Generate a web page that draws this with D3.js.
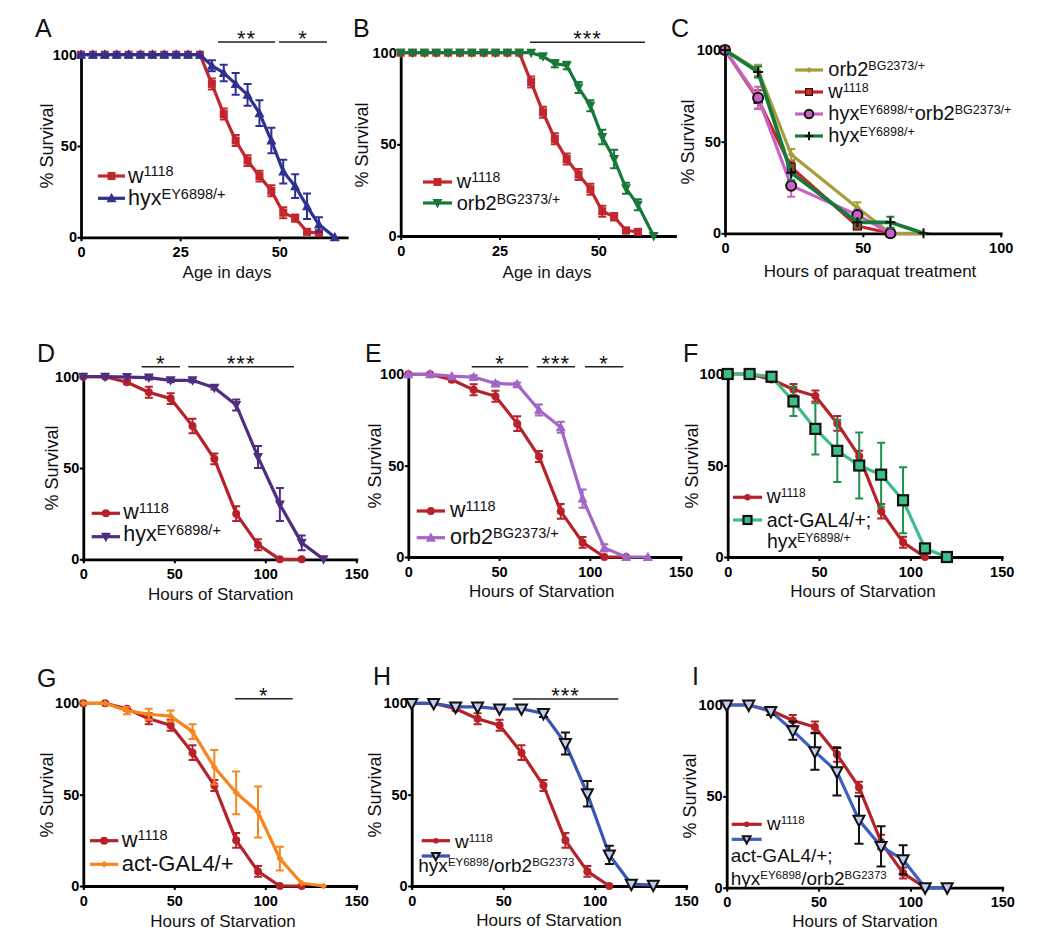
<!DOCTYPE html>
<html><head><meta charset="utf-8">
<script src="https://cdn.jsdelivr.net/npm/d3@7"></script>
<style>body{margin:0;background:#fff} svg{display:block}</style>
</head><body>
<svg id="chart" width="1050" height="949"></svg>
<script>
// ---------------- DATA ----------------
// Lifespan (panels A, B) - age in days
const lifeDays    = [0,3,6,9,12,15,18,21,24,27,30,33,36,39,42,45,48,51,54,57,60];
const lifeMutDays = [0,3,6,9,12,15,18,21,24,27,30,33,36,39,42,45,48,51,54,57,60,64];
const lifeW1118    = [100,100,100,100,100,100,100,100,100,100,100,84,67.5,53,42,33.5,25.5,13.5,10.5,3,2.3];
const lifeW1118Err = [0,0,0,0,0,0,0,0,0,0,0,3,3,3,3,3,3,3,2,1.5,1.5];
const lifeHyx      = [100,100,100,100,100,100,100,100,100,100,100,94,90,84,78,68,53,36,28,17,7,0];
const lifeHyxErr   = [0,0,0,0,0,0,0,0,0,0,0,3,4.5,6,6,7,7,6.5,6.5,7,4,0];
const lifeOrb2     = [100,100,100,100,100,100,100,100,100,100,100,100,98,94,93,81,71,54,42,26,17,0];
const lifeOrb2Err  = [0,0,0,0,0,0,0,0,0,0,0,0,1,2,2,3,3,4,5,3,3,0];

// Paraquat (panel C) - hours
const paraHours      = [0,12,24,48,60,72];
const paraHoursShort = [0,12,24,48,60];
const paraOrb2       = [100,89,43,14,0,0];
const paraOrb2Err    = [0,3,3,3,0,0];
const paraW1118      = [100,73,36,4,0];
const paraW1118Err   = [0,5,3,1.5,0];
const paraHyxOrb2    = [100,74,26,10,0];
const paraHyxOrb2Err = [0,6,6,3,0];
const paraHyx        = [100,88,33,6,6,0];
const paraHyxErr     = [0,3,4,2,3,0];

// Starvation (panels D-I) - hours
const starvHours = [0,12,24,36,48,60,72,84,96,108,120,132];
const starvW1118    = [100,100,97,91.5,88,73,55,25,8,0,0];
const starvW1118Err = [0,0,1,3,3,4,3,4,3,0,0];
const starvHyx      = [100,100,99.8,99.5,98,98,94,84.5,56,30,9,0];
const starvHyxErr   = [0,0,0,1,1,1,1,3,6,9,4,0];
const starvOrb2     = [100,100,99,98.5,95,94.5,80.5,71,32,5,0,0];
const starvOrb2Err  = [0,0,0,1,1,1,3,3,5,2,0,0];
const starvActHyx    = [100,100,98.5,85,70,58,50,45,31,4.7,0];
const starvActHyxErr = [0,0,1,8,14,17,18,17.5,18,2,0];
const starvAct       = [100,100,96,94,93,84.5,65,51,40.5,15,1.5,0];
const starvActErr    = [0,0,2,3,3,4,9.5,11.7,14,6.5,0,0];
const starvHyxOrb2    = [100,100,98,98,97,97,94.5,78,50.5,17,1,0.5];
const starvHyxOrb2Err = [0,0,0,0,0,0,2,6,7,5,0,0];
const starvActHyxOrb2    = [100,100,96.5,86,74.5,63.5,37,22.6,15.3,0,0];
const starvActHyxOrb2Err = [0,0,2,5,10,13,13,11,8,0,0];

// Tick labels
const survTicks  = [0,50,100];
const lifeTicks  = [0,25,50];
const paraTicks  = [0,50,100];
const starvTicks = [0,50,100,150];

// Text
const yTitle = "% Survival";
const lifeTitle = "Age in days";
const paraTitle = "Hours of paraquat treatment";
const starvTitle = "Hours of Starvation";

// ---------------- DRAWING ----------------
const FONT = "'Liberation Sans', Arial, Helvetica, sans-serif";
const svg = d3.select("#chart");

function series(xs, ys, es, style) { return Object.assign({x: xs, y: ys, e: es}, style); }

function drawMarker(g, m, cx, cy, scale) {
  const s = m.size * (scale || 1); let el;
  if (m.type === "square") el = g.append("rect").attr("x", cx - s/2).attr("y", cy - s/2).attr("width", s).attr("height", s);
  else if (m.type === "circle") el = g.append("circle").attr("cx", cx).attr("cy", cy).attr("r", s/2);
  else if (m.type === "triUp") el = g.append("path").attr("d", `M${cx},${cy - s*0.55}L${cx + s/2},${cy + s*0.4}L${cx - s/2},${cy + s*0.4}Z`);
  else if (m.type === "triDown") el = g.append("path").attr("d", `M${cx},${cy + s*0.55}L${cx + s/2},${cy - s*0.4}L${cx - s/2},${cy - s*0.4}Z`);
  else if (m.type === "diamond") el = g.append("path").attr("d", `M${cx},${cy - s/2}L${cx + s/2},${cy}L${cx},${cy + s/2}L${cx - s/2},${cy}Z`);
  else if (m.type === "plus") el = g.append("path").attr("d", `M${cx - s/2},${cy}H${cx + s/2}M${cx},${cy - s/2}V${cy + s/2}`);
  el.attr("fill", m.type === "plus" ? "none" : m.fill)
    .attr("stroke", m.stroke || "none").attr("stroke-width", m.sw || 0);
}

function richText(g, x, y, str, size, supSize) {
  const t = g.append("text").attr("x", x).attr("y", y)
    .attr("font-family", FONT).attr("font-size", size).attr("fill", "#111");
  const parts = str.split(/(\^\{[^}]*\})/).filter(p => p.length);
  let shift = 0; const up = size * 0.3;
  parts.forEach(p => {
    if (p.startsWith("^{")) {
      t.append("tspan").attr("font-size", supSize).attr("dy", -up - shift).text(p.slice(2, -1));
      shift = -up;
    } else {
      t.append("tspan").attr("font-size", size).attr("dy", -shift).text(p);
      shift = 0;
    }
  });
}

function panel(c) {
  const g = svg.append("g");
  const x = d3.scaleLinear().domain(c.xDomain).range([c.x0, c.x1]);
  const y = d3.scaleLinear().domain([0, 100]).range([c.y0, c.y100]);

  // axes
  const ya = g.append("g").attr("transform", `translate(${c.x0},0)`)
    .call(d3.axisLeft(y).tickValues(survTicks).tickSize(3.5).tickPadding(0.5).tickSizeOuter(0));
  const xa = g.append("g").attr("transform", `translate(0,${c.y0})`)
    .call(d3.axisBottom(x).tickValues(c.xTicks).tickSize(4).tickPadding(5.5).tickSizeOuter(0));
  [ya, xa].forEach(a => {
    a.select(".domain").attr("stroke", "#000").attr("stroke-width", 2.8).attr("stroke-linecap", "square");
    a.selectAll(".tick line").attr("stroke", "#000").attr("stroke-width", 2);
    a.selectAll(".tick text").attr("font-family", FONT).attr("font-weight", "bold")
      .attr("font-size", 14.5).attr("fill", "#000");
  });

  // series
  c.series.forEach(s => {
    const pts = s.x.map((xv, i) => ({x: xv, y: s.y[i], e: s.e ? s.e[i] : 0})).filter(d => d.y !== undefined);
    g.append("path").datum(pts)
      .attr("d", d3.line().x(d => x(d.x)).y(d => y(d.y)))
      .attr("fill", "none").attr("stroke", s.color).attr("stroke-width", s.lw || 3.2)
      .attr("stroke-linejoin", "round");
    const eb = g.append("g").attr("stroke", s.errColor || s.color).attr("stroke-width", 2).attr("fill", "none");
    const cw = s.cap || 4;
    pts.filter(d => d.e > 0).forEach(d => {
      const cx = x(d.x), t = y(d.y + d.e), b = y(d.y - d.e);
      eb.append("path").attr("d", `M${cx},${t}V${b}M${cx - cw},${t}H${cx + cw}M${cx - cw},${b}H${cx + cw}`);
    });
    pts.forEach(d => drawMarker(g, s.marker, x(d.x), y(d.y)));
  });

  // panel letter
  g.append("text").attr("x", c.label[1]).attr("y", c.label[2]).text(c.label[0])
    .attr("font-family", FONT).attr("font-size", 25).attr("fill", "#111");
  // axis titles
  g.append("text").attr("transform", `translate(${c.yTitle[0]},${c.yTitle[1]}) rotate(-90)`)
    .attr("text-anchor", "middle").attr("dy", "0.35em").text(yTitle)
    .attr("font-family", FONT).attr("font-size", 18).attr("fill", "#111");
  g.append("text").attr("x", c.xTitle[1]).attr("y", c.xTitle[2]).attr("text-anchor", "middle")
    .text(c.xTitle[0]).attr("font-family", FONT).attr("font-size", 17).attr("fill", "#111");

  // significance bars
  (c.sig || []).forEach(sg => {
    g.append("line").attr("x1", sg[0]).attr("x2", sg[1]).attr("y1", sg[2]).attr("y2", sg[2])
      .attr("stroke", "#222").attr("stroke-width", 1.6);
    g.append("text").attr("x", (sg[0] + sg[1]) / 2).attr("y", sg[2] + 4).attr("text-anchor", "middle")
      .text(sg[3]).attr("font-family", FONT).attr("font-size", 22).attr("letter-spacing", 1).attr("fill", "#111");
  });

  // legend
  const L = c.legend;
  L.rows.forEach((ry, i) => {
    const s = c.series[L.order[i]];
    g.append("line").attr("x1", L.lx0).attr("x2", L.lx1).attr("y1", ry).attr("y2", ry)
      .attr("stroke", s.color).attr("stroke-width", 3.2);
    drawMarker(g, s.marker, (L.lx0 + L.lx1) / 2, ry, L.mscale || 1);
  });
  L.texts.forEach(t => richText(g, t[0], t[1], t[2], L.size, L.sup));
}

// colours / styles
const RED_AB = "#c1272d", RED = "#b7222a";
const sqRed = {type: "square", size: 8, fill: RED_AB};
const circRed = {type: "circle", size: 8, fill: RED};

// Panel A
panel({
  x0: 81, x1: 346.7, xDomain: [0, 67], xTicks: lifeTicks, y0: 237.3, y100: 54.7,
  label: ["A", 35, 37], yTitle: [47, 146], xTitle: [lifeTitle, 227, 278],
  series: [
    series(lifeDays, lifeW1118, lifeW1118Err, {color: RED_AB, marker: sqRed}),
    series(lifeMutDays, lifeHyx, lifeHyxErr, {color: "#2e3192", marker: {type: "triUp", size: 10, fill: "#2e3192"}})
  ],
  sig: [[218, 275, 42, "**"], [279, 327, 42, "*"]],
  legend: {lx0: 98, lx1: 125, rows: [176, 198.3], order: [0, 1], size: 21.5, sup: 14.5,
    texts: [[128, 182.5, "w^{1118}"], [128, 205, "hyx^{EY6898/+}"]]}
});

// Panel B
panel({
  x0: 400.7, x1: 675, xDomain: [0, 69.4], xTicks: lifeTicks, y0: 236, y100: 52.7,
  label: ["B", 353, 37], yTitle: [362, 145], xTitle: [lifeTitle, 547, 278],
  series: [
    series(lifeDays, lifeW1118, lifeW1118Err, {color: RED_AB, marker: sqRed}),
    series(lifeMutDays, lifeOrb2, lifeOrb2Err, {color: "#17783a", marker: {type: "triDown", size: 10, fill: "#17783a"}})
  ],
  sig: [[530, 645, 42.3, "***"]],
  legend: {lx0: 423, lx1: 452, rows: [182, 203], order: [0, 1], size: 20, sup: 14,
    texts: [[456.7, 188, "w^{1118}"], [456.7, 210, "orb2^{BG2373/+}"]]}
});

// Panel C
panel({
  x0: 725, x1: 1000.7, xDomain: [0, 100], xTicks: paraTicks, y0: 233.3, y100: 50,
  label: ["C", 671, 37], yTitle: [688, 142], xTitle: [paraTitle, 870, 276.7],
  series: [
    series(paraHours, paraOrb2, paraOrb2Err, {color: "#a59e3a", marker: {type: "diamond", size: 7, fill: "#a59e3a"}}),
    series(paraHoursShort, paraW1118, paraW1118Err, {color: "#c0282b", marker: {type: "square", size: 8, fill: "#c9302c", stroke: "#3a0a0a", sw: 1.2}}),
    series(paraHoursShort, paraHyxOrb2, paraHyxOrb2Err, {color: "#c862c6", marker: {type: "circle", size: 10, fill: "#c862c6", stroke: "#111", sw: 2}}),
    series(paraHours, paraHyx, paraHyxErr, {color: "#177a3b", lw: 3.8, marker: {type: "plus", size: 10, stroke: "#111", sw: 2}})
  ],
  legend: {lx0: 795, lx1: 823, rows: [70, 92, 114, 136], order: [0, 1, 2, 3], size: 20, sup: 12.5, mscale: 0.85,
    texts: [[828.3, 76, "orb2^{BG2373/+}"], [828.3, 98, "w^{1118}"], [828.3, 120, "hyx^{EY6898/+}orb2^{BG2373/+}"], [828.3, 142, "hyx^{EY6898/+}"]]}
});

// Panel D
panel({
  x0: 83.3, x1: 356.3, xDomain: [0, 150], xTicks: starvTicks, y0: 559.3, y100: 376.7,
  label: ["D", 37, 362], yTitle: [51.7, 468], xTitle: [starvTitle, 220.7, 600],
  series: [
    series(starvHours, starvW1118, starvW1118Err, {color: RED, marker: circRed}),
    series(starvHours, starvHyx, starvHyxErr, {color: "#4f2d7f", marker: {type: "triDown", size: 10, fill: "#4f2d7f"}})
  ],
  sig: [[141.7, 180, 366.7, "*"], [188.3, 294, 366.7, "***"]],
  legend: {lx0: 91.7, lx1: 120, rows: [513.3, 536.7], order: [0, 1], size: 21.5, sup: 14.5,
    texts: [[123.3, 519, "w^{1118}"], [123.3, 541, "hyx^{EY6898/+}"]]}
});

// Panel E
panel({
  x0: 408.3, x1: 680.6, xDomain: [0, 150], xTicks: starvTicks, y0: 557, y100: 374.3,
  label: ["E", 365, 362], yTitle: [375, 466], xTitle: [starvTitle, 541.7, 596.7],
  series: [
    series(starvHours, starvW1118, starvW1118Err, {color: RED, marker: circRed}),
    series(starvHours, starvOrb2, starvOrb2Err, {color: "#a466c6", marker: {type: "triUp", size: 10, fill: "#a466c6"}})
  ],
  sig: [[471.7, 528.3, 366.7, "*"], [536.7, 575, 366.7, "***"], [585, 623.3, 366.7, "*"]],
  legend: {lx0: 416.7, lx1: 445, rows: [511, 537.7], order: [0, 1], size: 21.5, sup: 14.5,
    texts: [[450, 517, "w^{1118}"], [450, 544, "orb2^{BG2373/+}"]]}
});

// Panel F
panel({
  x0: 727.7, x1: 1001.7, xDomain: [0, 150], xTicks: starvTicks, y0: 557, y100: 374,
  label: ["F", 683, 362], yTitle: [692, 466], xTitle: [starvTitle, 863, 597],
  series: [
    series(starvHours.slice(0, 10), starvW1118.slice(0, 10), starvW1118Err, {color: RED, marker: circRed}),
    series(starvHours, starvActHyx, starvActHyxErr, {color: "#3dbd88", errColor: "#1c9149",
      marker: {type: "square", size: 10, fill: "#3dbd88", stroke: "#111", sw: 2.2}})
  ],
  legend: {lx0: 733, lx1: 762, rows: [497.3, 520], order: [0, 1], size: 19.5, sup: 12, mscale: 0.8,
    texts: [[766.7, 503, "w^{1118}"], [766.7, 526.5, "act-GAL4/+;"], [767, 548, "hyx^{EY6898/+}"]]}
});

// Panel G
panel({
  x0: 83.3, x1: 356.3, xDomain: [0, 150], xTicks: starvTicks, y0: 886, y100: 703.3,
  label: ["G", 37, 687], yTitle: [46.7, 795], xTitle: [starvTitle, 223, 926.7],
  series: [
    series(starvHours, starvW1118, starvW1118Err, {color: RED, marker: circRed}),
    series(starvHours, starvAct, starvActErr, {color: "#f7851f", marker: {type: "diamond", size: 7, fill: "#f7851f"}})
  ],
  sig: [[235, 292.7, 698.7, "*"]],
  legend: {lx0: 90, lx1: 118.3, rows: [840.7, 864.3], order: [0, 1], size: 22, sup: 14.5,
    texts: [[121.7, 846.5, "w^{1118}"], [121.7, 871, "act-GAL4/+"]]}
});

// Panel H
panel({
  x0: 411.7, x1: 686.2, xDomain: [0, 150], xTicks: starvTicks, y0: 886, y100: 703.3,
  label: ["H", 373, 685], yTitle: [375, 795], xTitle: [starvTitle, 549, 926],
  series: [
    series(starvHours.slice(0, 10), starvW1118.slice(0, 10), starvW1118Err, {color: RED, marker: circRed}),
    series(starvHours, starvHyxOrb2, starvHyxOrb2Err, {color: "#3a56b2", errColor: "#111", cap: 4.5,
      marker: {type: "triDown", size: 11, fill: "#c3cdee", stroke: "#111", sw: 2}})
  ],
  sig: [[512.7, 618.3, 699, "***"]],
  legend: {lx0: 421.7, lx1: 450, rows: [840.7, 856], order: [0, 1], size: 19, sup: 11.5, mscale: 0.7,
    texts: [[455, 848, "w^{1118}"], [418.3, 872, "hyx^{EY6898}/orb2^{BG2373}"]]}
});

// Panel I
panel({
  x0: 726.7, x1: 1002.3, xDomain: [0, 150], xTicks: starvTicks, y0: 887.7, y100: 705,
  label: ["I", 692, 685], yTitle: [690, 796], xTitle: [starvTitle, 865, 926.7],
  series: [
    series(starvHours.slice(0, 10), starvW1118.slice(0, 10), starvW1118Err, {color: RED, marker: circRed}),
    series(starvHours, starvActHyxOrb2, starvActHyxOrb2Err, {color: "#3b5fc2", errColor: "#111", cap: 4.5,
      marker: {type: "triDown", size: 11, fill: "#c3cdee", stroke: "#111", sw: 2}})
  ],
  legend: {lx0: 731.7, lx1: 761.7, rows: [824.3, 839.3], order: [0, 1], size: 19, sup: 11.5, mscale: 0.7,
    texts: [[767, 830, "w^{1118}"], [730.7, 862, "act-GAL4/+;"], [730.7, 885, "hyx^{EY6898}/orb2^{BG2373}"]]}
});
</script>
</body></html>
